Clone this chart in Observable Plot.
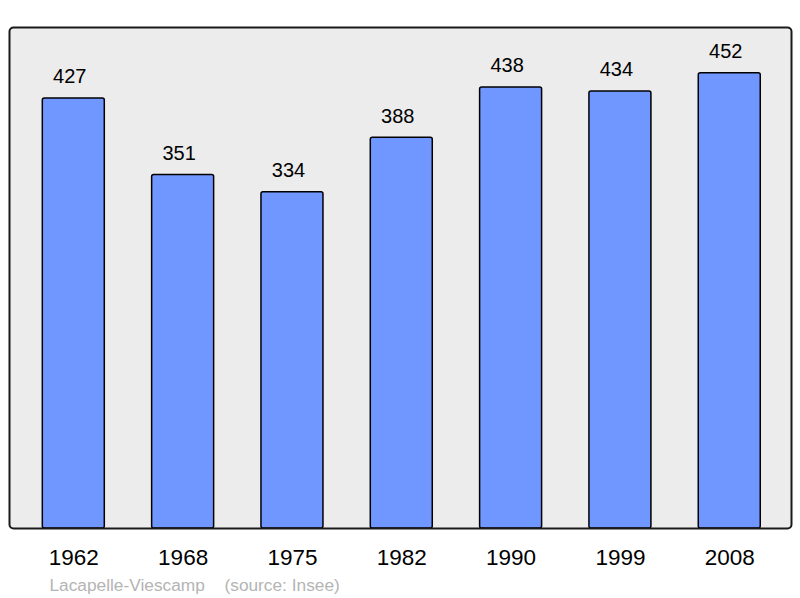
<!DOCTYPE html>
<html>
<head>
<meta charset="utf-8">
<script src="https://cdn.jsdelivr.net/npm/d3@7"></script>
<script src="https://cdn.jsdelivr.net/npm/@observablehq/plot@0.6"></script>
<style>
  html, body { margin: 0; padding: 0; background: #ffffff; }
  #chart svg { display: block; }
</style>
</head>
<body>
<div id="chart"></div>
<script>
const years = ["1962", "1968", "1975", "1982", "1990", "1999", "2008"];
const population = [427, 351, 334, 388, 438, 434, 452];
const commune = "Lacapelle-Viescamp";
const source = "(source: Insee)";

const data = years.map((y, i) => ({year: y, value: population[i]}));

const chart = Plot.plot({
  width: 800,
  height: 598,
  marginTop: 27,
  marginBottom: 70,
  marginLeft: 9,
  marginRight: 9,
  style: {fontFamily: "'Liberation Sans', Arial, sans-serif", background: "#ffffff", overflow: "visible"},
  x: {type: "band", domain: years, paddingInner: 0.433, paddingOuter: 0.293, align: 0.52, round: false, label: null},
  y: {domain: [0, 497.5], axis: null},
  marks: [
    Plot.frame({fill: "#ececec", stroke: "none", rx: 4}),
    Plot.barY(data, {x: "year", y: "value", fill: "#7096ff", stroke: "#000000", strokeWidth: 1.5, rx: 2}),
    Plot.text(data, {x: "year", y: "value", text: d => String(d.value), lineAnchor: "bottom", dx: -4, dy: -15, fontSize: 20, fill: "#000000"}),
    Plot.frame({fill: "none", stroke: "#1a1a1a", strokeWidth: 2, rx: 4}),
    Plot.axisX({tickSize: 0, tickPadding: 21, fontSize: 22.5, label: null, color: "#000000"}),
    Plot.text([commune], {frameAnchor: "bottom-left", text: d => d, textAnchor: "start", lineAnchor: "bottom", dx: 40, dy: 62, fontSize: 17.3, fill: "#b4b4b4"}),
    Plot.text([source], {frameAnchor: "bottom-left", text: d => d, textAnchor: "start", lineAnchor: "bottom", dx: 215, dy: 62, fontSize: 17.3, fill: "#b4b4b4"})
  ]
});
document.getElementById("chart").appendChild(chart);
</script>
</body>
</html>
